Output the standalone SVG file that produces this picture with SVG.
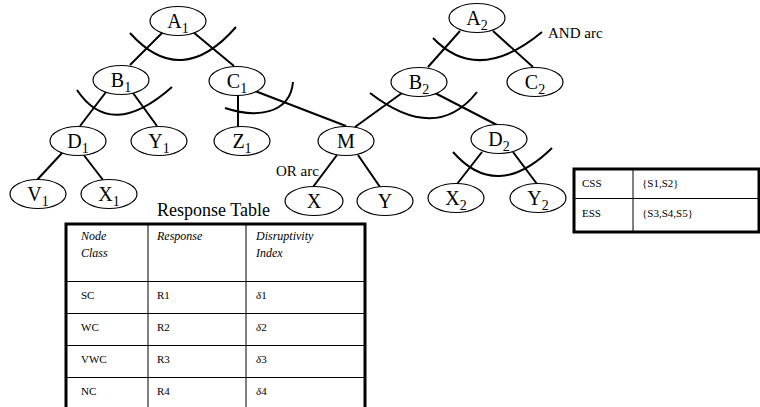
<svg xmlns="http://www.w3.org/2000/svg" width="760" height="407" viewBox="0 0 760 407">
  <style>
    .node ellipse { fill: #fff; stroke: #000; stroke-width: 1.2; }
    .node text { font-family: "Liberation Serif", "Times New Roman", serif; font-size: 20px; text-anchor: middle; fill: #000; }
    .sub { font-size: 14px; }
    .edge { stroke: #000; stroke-width: 2; fill: none; }
    .label { font-family: "Liberation Serif", "Times New Roman", serif; font-size: 15px; fill: #000; }
    .title { font-family: "Liberation Serif", "Times New Roman", serif; font-size: 18px; fill: #000; }
    .cell { font-family: "Liberation Serif", "Times New Roman", serif; font-size: 11px; fill: #000; }
    .head { font-style: italic; font-size: 12px; }
    .frame { fill: #fff; stroke: #000; stroke-width: 3; }
    .grid { stroke: #000; stroke-width: 1; }
  </style>

  <!-- connectors, AND arcs and OR arc -->
  <g id="connectors">
    <line class="edge" x1="163" y1="32" x2="130" y2="65"/>
    <line class="edge" x1="193" y1="32" x2="234" y2="66"/>
    <line class="edge" x1="106" y1="92" x2="80" y2="126"/>
    <line class="edge" x1="133" y1="93" x2="157" y2="126"/>
    <line class="edge" x1="62" y1="153" x2="37" y2="180"/>
    <line class="edge" x1="83" y1="154" x2="103" y2="180"/>
    <line class="edge" x1="238" y1="96" x2="238" y2="127"/>
    <line class="edge" x1="255" y1="91" x2="346" y2="126"/>
    <line class="edge" x1="460" y1="31" x2="428" y2="67"/>
    <line class="edge" x1="493" y1="31" x2="533" y2="67"/>
    <line class="edge" x1="402" y1="93" x2="355" y2="127"/>
    <line class="edge" x1="435" y1="93" x2="497" y2="125"/>
    <line class="edge" x1="482" y1="152" x2="457" y2="184"/>
    <line class="edge" x1="513" y1="152" x2="537" y2="184"/>
    <line class="edge" x1="337" y1="155" x2="313" y2="187"/>
    <line class="edge" x1="358" y1="155" x2="380" y2="187"/>
    <!-- AND arcs -->
    <path class="edge" d="M130,33 Q181,90 236,27"/>
    <path class="edge" d="M77,90 Q111,141 172,87"/>
    <path class="edge" d="M370,93 Q436,144 477,92"/>
    <path class="edge" d="M433,38 Q478,85 542,32"/>
    <path class="edge" d="M453,152 Q497,202 552,148"/>
    <!-- OR arc -->
    <path class="edge" d="M225,108 C255,118 290,115 293,82"/>
  </g>

  <g id="A1" class="node"><ellipse cx="178" cy="21" rx="28" ry="14.5"/><text x="178" y="28">A<tspan class="sub" dy="5">1</tspan></text></g>
  <g id="B1" class="node"><ellipse cx="121" cy="80" rx="28" ry="14.5"/><text x="121" y="87">B<tspan class="sub" dy="5">1</tspan></text></g>
  <g id="C1" class="node"><ellipse cx="237" cy="81" rx="28" ry="14.5"/><text x="237" y="88">C<tspan class="sub" dy="5">1</tspan></text></g>
  <g id="A2" class="node"><ellipse cx="477" cy="18" rx="28" ry="14.5"/><text x="477" y="25">A<tspan class="sub" dy="5">2</tspan></text></g>
  <g id="B2" class="node"><ellipse cx="419" cy="82" rx="28" ry="14.5"/><text x="419" y="89">B<tspan class="sub" dy="5">2</tspan></text></g>
  <g id="C2" class="node"><ellipse cx="535" cy="82" rx="28" ry="14.5"/><text x="535" y="89">C<tspan class="sub" dy="5">2</tspan></text></g>
  <g id="D1" class="node"><ellipse cx="78" cy="141" rx="28" ry="14.5"/><text x="78" y="148">D<tspan class="sub" dy="5">1</tspan></text></g>
  <g id="Y1" class="node"><ellipse cx="159" cy="141" rx="28" ry="14.5"/><text x="159" y="148">Y<tspan class="sub" dy="5">1</tspan></text></g>
  <g id="Z1" class="node"><ellipse cx="242" cy="141" rx="28" ry="14.5"/><text x="242" y="148">Z<tspan class="sub" dy="5">1</tspan></text></g>
  <g id="M" class="node"><ellipse cx="346" cy="141" rx="28" ry="14.5"/><text x="346" y="148">M</text></g>
  <g id="D2" class="node"><ellipse cx="499" cy="139" rx="28" ry="14.5"/><text x="499" y="146">D<tspan class="sub" dy="5">2</tspan></text></g>
  <g id="V1" class="node"><ellipse cx="38" cy="194" rx="28" ry="14.5"/><text x="38" y="201">V<tspan class="sub" dy="5">1</tspan></text></g>
  <g id="X1" class="node"><ellipse cx="109" cy="194" rx="28" ry="14.5"/><text x="109" y="201">X<tspan class="sub" dy="5">1</tspan></text></g>
  <g id="X" class="node"><ellipse cx="314" cy="201" rx="29" ry="14.5"/><text x="314" y="208">X</text></g>
  <g id="Y" class="node"><ellipse cx="385" cy="201" rx="28" ry="14.5"/><text x="385" y="208">Y</text></g>
  <g id="X2" class="node"><ellipse cx="456" cy="198" rx="28" ry="14.5"/><text x="456" y="205">X<tspan class="sub" dy="5">2</tspan></text></g>
  <g id="Y2" class="node"><ellipse cx="538" cy="198" rx="28" ry="14.5"/><text x="538" y="205">Y<tspan class="sub" dy="5">2</tspan></text></g>

  <!-- labels -->
  <text class="label" x="548" y="38">AND arc</text>
  <text class="label" x="276" y="176">OR arc</text>
  <text class="title" x="157" y="216">Response Table</text>

  <!-- response table -->
  <g id="response-table">
    <rect class="frame" x="66" y="224" width="299" height="190"/>
    <line class="grid" x1="148" y1="224" x2="148" y2="407"/>
    <line class="grid" x1="246" y1="224" x2="246" y2="407"/>
    <line class="grid" x1="66" y1="281.5" x2="365" y2="281.5"/>
    <line class="grid" x1="66" y1="313.5" x2="365" y2="313.5"/>
    <line class="grid" x1="66" y1="345.5" x2="365" y2="345.5"/>
    <line class="grid" x1="66" y1="377.5" x2="365" y2="377.5"/>
    <text class="cell head" x="81" y="240">Node</text>
    <text class="cell head" x="81" y="257">Class</text>
    <text class="cell head" x="157" y="240">Response</text>
    <text class="cell head" x="256" y="240">Disruptivity</text>
    <text class="cell head" x="256" y="257">Index</text>
    <text class="cell" x="81" y="299">SC</text>
    <text class="cell" x="157" y="299">R1</text>
    <text class="cell" x="256" y="299"><tspan font-style="italic">δ</tspan>1</text>
    <text class="cell" x="81" y="331">WC</text>
    <text class="cell" x="157" y="331">R2</text>
    <text class="cell" x="256" y="331"><tspan font-style="italic">δ</tspan>2</text>
    <text class="cell" x="81" y="363">VWC</text>
    <text class="cell" x="157" y="363">R3</text>
    <text class="cell" x="256" y="363"><tspan font-style="italic">δ</tspan>3</text>
    <text class="cell" x="81" y="395">NC</text>
    <text class="cell" x="157" y="395">R4</text>
    <text class="cell" x="256" y="395"><tspan font-style="italic">δ</tspan>4</text>
  </g>

  <!-- scenario set table -->
  <g id="set-table">
    <rect class="frame" x="574" y="169" width="185" height="63"/>
    <line class="grid" x1="633" y1="169" x2="633" y2="232"/>
    <line class="grid" x1="574" y1="198.5" x2="759" y2="198.5"/>
    <text class="cell" x="582" y="187">CSS</text>
    <text class="cell" x="642" y="187">{S1,S2}</text>
    <text class="cell" x="582" y="217">ESS</text>
    <text class="cell" x="642" y="217">{S3,S4,S5}</text>
  </g>
</svg>
